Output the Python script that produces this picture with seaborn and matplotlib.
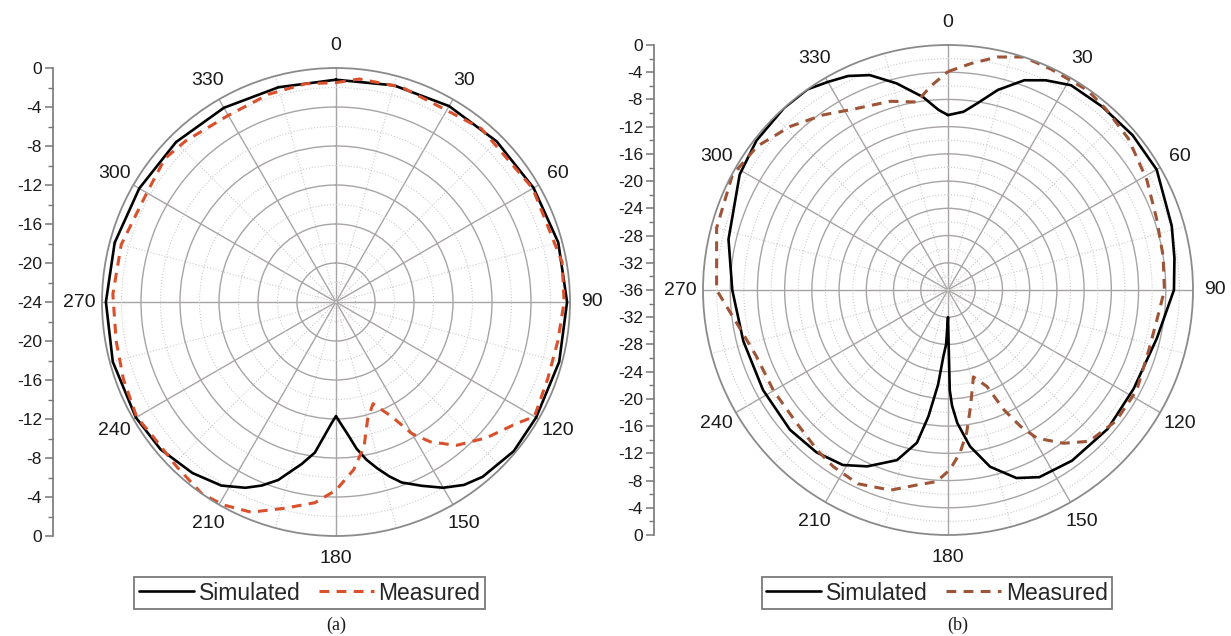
import numpy as np
import pandas as pd
import matplotlib
matplotlib.use("Agg")
import matplotlib.pyplot as plt
import seaborn as sns

# ---- data (angle in degrees, gain in dB) ----
a_sim_ang = [0, 15, 30, 45, 60, 75, 90, 105, 120, 130, 140, 145, 150, 155, 160, 163, 166, 169, 172, 175,
             178, 180, 182, 185, 188, 192, 195, 198, 202, 206, 212, 220, 230, 240, 255, 270, 285, 300,
             315, 330, 345, 360]
a_sim_db = [-1.2, -1.0, -0.8, -0.7, -0.6, -0.4, -0.3, -0.3, -0.3, -0.2, -0.6, -1.1, -2.0, -3.2, -4.3, -5.3,
            -6.4, -7.5, -8.8, -10.4, -11.6, -12.3, -11.6, -10.2, -8.4, -7.0, -6.0, -4.8, -3.7, -2.8, -1.8,
            -1.1, -0.5, -0.3, -0.3, -0.4, -0.5, -0.7, -0.8, -1.0, -1.2, -1.2]

a_meas_ang = [0, 6, 17, 30, 40, 60, 80, 90, 100, 110, 120, 124, 132, 140, 146, 150, 154, 160, 165, 169,
              174, 180, 186, 194, 202, 209, 215, 224, 234, 240, 250, 260, 272, 285, 300, 310, 317, 330,
              342, 352, 360]
a_meas_db = [-1.5, -1.0, -0.95, -1.3, -0.8, -0.7, -0.45, -0.6, -0.9, -0.9, -0.5, -1.7, -3.2, -4.8, -6.7,
             -8.4, -10.9, -12.9, -11.5, -8.9, -6.7, -4.7, -3.3, -2.2, -0.75, -0.2, 0.0, -0.5, -0.7, -0.4,
             -0.8, -1.1, -1.1, -1.2, -1.6, -1.1, -1.4, -1.9, -1.6, -1.4, -1.5]

b_sim_ang = [0, 5, 9, 14, 20, 25, 31, 40, 50, 60, 74, 82, 90, 103, 118, 131, 144, 154, 160, 166.6, 172,
             176, 178, 179, 180, 182, 184, 186, 188.8, 191.5, 196.7, 204.6, 211, 219, 228.5, 241.6, 256,
             270, 283, 299, 308, 318, 325, 330, 335, 340, 346, 352.6, 357, 360]
b_sim_db = [-10.3, -9.7, -8.2, -5.7, -3.2, -2.0, -0.9, -0.8, -0.6, -0.6, -1.8, -2.4, -2.8, -4.5, -5.1,
            -4.9, -5.0, -5.4, -6.6, -9.3, -12.8, -16.4, -19.0, -21.3, -32.0, -28.0, -26.2, -22.0, -17.2,
            -13.1, -9.9, -7.5, -6.0, -5.3, -5.0, -5.1, -5.0, -4.3, -2.9, -1.0, -0.3, 0.0, 0.0, -0.7, -1.3,
            -2.4, -4.7, -7.4, -9.5, -10.3]

b_meas_ang = [0, 6, 12, 18, 25, 35, 41, 50, 61, 71, 81, 90, 95, 106, 118, 128, 137, 143, 149, 152, 155,
              158, 163.7, 169, 172.6, 175.8, 179.4, 183.4, 189, 196, 205, 213, 219, 229, 240, 251, 261,
              270, 285, 298, 307, 316, 324.5, 333, 343, 350.6, 355, 360]
b_meas_db = [-3.9, -2.5, -1.0, 0.0, -0.2, -0.2, -0.7, -1.4, -2.6, -3.6, -4.0, -4.2, -4.75, -5.2, -4.6,
             -4.7, -5.6, -7.8, -10.6, -13.3, -16.6, -20.7, -22.7, -18.6, -14.8, -12.0, -9.6, -7.8, -7.0,
             -5.4, -4.6, -5.05, -5.6, -6.4, -6.4, -6.2, -4.6, -2.0, -0.8, -0.1, -0.9, -2.6, -4.4, -6.1,
             -7.0, -8.0, -6.0, -3.9]

angle_labels = ["0", "30", "60", "90", "120", "150", "180", "210", "240", "270", "300", "330"]
a_scale_labels = ["0", "-4", "-8", "-12", "-16", "-20", "-24", "-20", "-16", "-12", "-8", "-4", "0"]
b_scale_labels = ["0", "-4", "-8", "-12", "-16", "-20", "-24", "-28", "-32", "-36",
                  "-32", "-28", "-24", "-20", "-16", "-12", "-8", "-4", "0"]
series_names = ["Simulated", "Measured"]

sns.set_theme(style="white")
plt.rcParams["font.family"] = ["Liberation Sans", "DejaVu Sans"]

W, H = 1231, 636
fig = plt.figure(figsize=(W / 100, H / 100), dpi=100)


def polar_panel(cx, cy, R, rmin, sim, meas, meas_color):
    ax = fig.add_axes([(cx - R) / W, (H - cy - R) / H, 2 * R / W, 2 * R / H], projection="polar")
    ax.set_theta_zero_location("N")
    ax.set_theta_direction(-1)
    sns.lineplot(x=np.deg2rad(sim[0]), y=sim[1], ax=ax, sort=False, estimator=None, legend=False,
                 color="black", lw=1.9, label=series_names[0])
    sns.lineplot(x=np.deg2rad(meas[0]), y=meas[1], ax=ax, sort=False, estimator=None, legend=False,
                 color=meas_color, lw=2.2, dashes=False, linestyle=(0, (3.2, 2.4)), label=series_names[1])
    ax.set_ylim(rmin, 0)
    ax.set_xlabel("")
    ax.set_ylabel("")
    ax.set_xticks(np.deg2rad(np.arange(0, 360, 30)))
    ax.set_xticklabels(angle_labels, fontsize=14, color="#1a1a1a")
    ax.set_xticks(np.deg2rad(np.arange(15, 360, 30)), minor=True)
    ax.set_yticks(np.arange(rmin + 4, 0, 4))
    ax.set_yticks(np.arange(rmin + 2, 0, 4), minor=True)
    ax.set_yticklabels([])
    ax.grid(which="major", color="#a8a4a4", lw=1.0, ls="-")
    ax.grid(which="minor", color="#cccccc", lw=0.8, ls=":")
    ax.tick_params(axis="x", which="both", direction="in", length=6, color="#888888", pad=9)
    ax.spines["polar"].set_color("#8a8a8a")
    ax.spines["polar"].set_linewidth(1.3)
    ax.set_facecolor("white")
    return ax


def scale_axis(x, cy, R, labels):
    ax = fig.add_axes([x / W, (H - cy - R) / H, 0.0001, 2 * R / H])
    n = len(labels) - 1
    pos = np.linspace(0, 2 * R, n + 1)
    ax.set_ylim(0, 2 * R)
    ax.set_yticks(pos)
    ax.set_yticklabels(labels[::-1], fontsize=12.5, color="#1a1a1a")
    ax.set_yticks((pos[:-1] + pos[1:]) / 2, minor=True)
    ax.set_xticks([])
    for s in ["top", "right", "bottom"]:
        ax.spines[s].set_visible(False)
    ax.spines["left"].set_color("#777777")
    ax.spines["left"].set_linewidth(1.2)
    ax.tick_params(axis="y", which="major", direction="out", length=6, width=1.1, color="#777777", pad=2, left=True)
    ax.tick_params(axis="y", which="minor", direction="out", length=3.5, width=1.0, color="#777777", left=True)
    ax.set_facecolor("none")
    return ax


ax_a = polar_panel(336, 302, 234, -24, (a_sim_ang, a_sim_db), (a_meas_ang, a_meas_db), "#d9502c")
ax_b = polar_panel(948, 290, 245, -36, (b_sim_ang, b_sim_db), (b_meas_ang, b_meas_db), "#9e5436")
scale_axis(53, 302, 234, a_scale_labels)
scale_axis(654, 290, 245, b_scale_labels)

for ax, cx, capx, cap in [(ax_a, 309.5, 336, "(a)"), (ax_b, 937, 958, "(b)")]:
    handles, labels = ax.get_legend_handles_labels()
    leg = fig.legend(handles, labels, loc="center", bbox_to_anchor=(cx / W, 1 - 593 / H), ncol=2,
                     fontsize=16.5, frameon=True, fancybox=False, edgecolor="#7a7a7a", framealpha=1,
                     handlelength=2.4, handletextpad=0.2, columnspacing=0.8, borderpad=0.2,
                     borderaxespad=0)
    leg.get_frame().set_linewidth(1.3)
    fig.text(capx / W, 1 - 625 / H, cap, ha="center", va="center",
             fontsize=13, family=["Liberation Serif", "DejaVu Serif"], color="#1a1a1a")

fig.savefig("out.png", dpi=100, facecolor="white")
